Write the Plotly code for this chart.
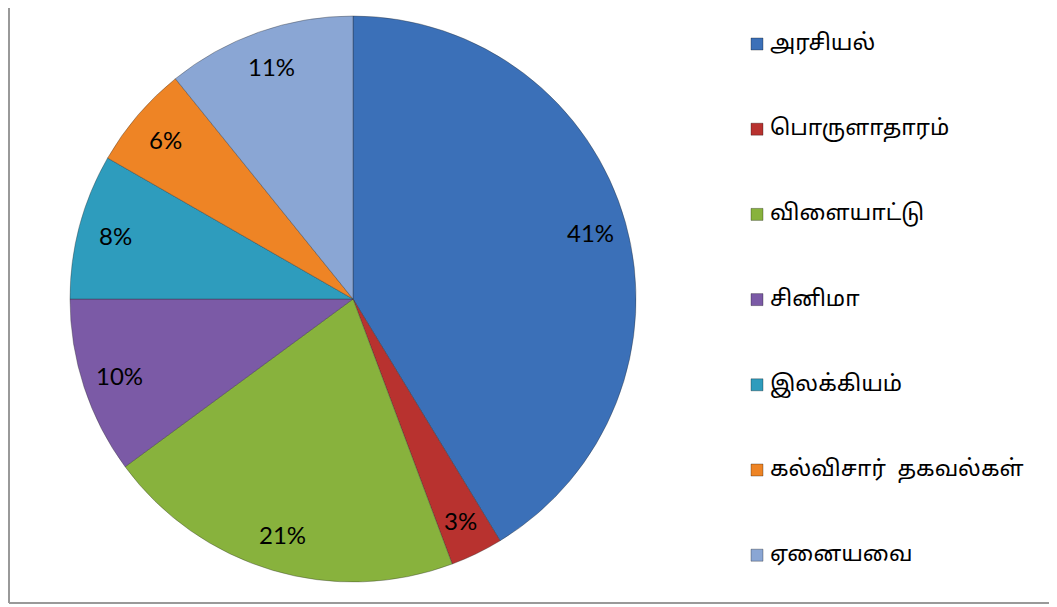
import math
import plotly.graph_objects as go

categories = ["அரசியல்", "பொருளாதாரம்", "விளையாட்டு", "சினிமா", "இலக்கியம்", "கல்விசார்  தகவல்கள்", "ஏனையவை"]
values = [41.3, 3.0, 20.6, 10.1, 8.3, 5.9, 10.8]
colors = ["#3b70b8", "#b8322f", "#88b23d", "#7b5aa6", "#2e9cbd", "#ee8425", "#8aa6d4"]

W, H = 1057, 607
OFF = 8  # browser page margin

def px(x):
    return (x - OFF) / W

def py(y):
    return 1 - (y - OFF) / H

# pie geometry (reference pixels)
CX, CY, R = 353, 299, 283

fig = go.Figure(go.Pie(
    labels=categories,
    values=values,
    sort=False,
    direction="clockwise",
    rotation=0,
    marker=dict(colors=colors, line=dict(color="rgba(40,40,40,0.35)", width=1)),
    textinfo="none",
    domain=dict(x=[px(CX - R), px(CX + R)], y=[py(CY + R), py(CY - R)]),
    showlegend=False,
    hoverinfo="label+percent",
))

# percentage labels at slice mid-angles
total = sum(values)
cum = 0.0
for v in values:
    mid = (cum + v / 2) / total * 2 * math.pi
    cum += v
    r = 0.87 * R
    lx = CX + r * math.sin(mid)
    ly = CY - r * math.cos(mid)
    fig.add_annotation(x=px(lx), y=py(ly), xref="paper", yref="paper",
                       text=f"{round(v / total * 100)}%", showarrow=False,
                       xanchor="center", yanchor="middle",
                       font=dict(family="Lato, Carlito, Calibri, sans-serif", size=24, color="black"))

# legend drawn as annotations + squares
y0, dy = 44, 85.2
for i, (cat, col) in enumerate(zip(categories, colors)):
    yc = y0 + i * dy
    fig.add_shape(type="rect", xref="paper", yref="paper",
                  x0=px(751), x1=px(763), y0=py(yc + 6), y1=py(yc - 6),
                  fillcolor=col, line=dict(color="rgba(0,0,0,0.3)", width=1))
    fig.add_annotation(x=px(768), y=py(yc), xref="paper", yref="paper",
                       text=cat, showarrow=False, xanchor="left", yanchor="middle",
                       font=dict(family="Noto Sans Tamil, Latha, Noto Sans, sans-serif", size=22.5, color="black"))

# chart frame (left and bottom edges visible)
fig.add_shape(type="line", xref="paper", yref="paper", x0=px(9), x1=px(9), y0=py(603), y1=1,
              line=dict(color="#999999", width=2))
fig.add_shape(type="line", xref="paper", yref="paper", x0=px(9), x1=1, y0=py(603), y1=py(603),
              line=dict(color="#999999", width=2))

fig.update_layout(
    width=W, height=H,
    margin=dict(l=0, r=0, t=0, b=0),
    paper_bgcolor="white",
    plot_bgcolor="white",
)

fig.write_html("out.html")
